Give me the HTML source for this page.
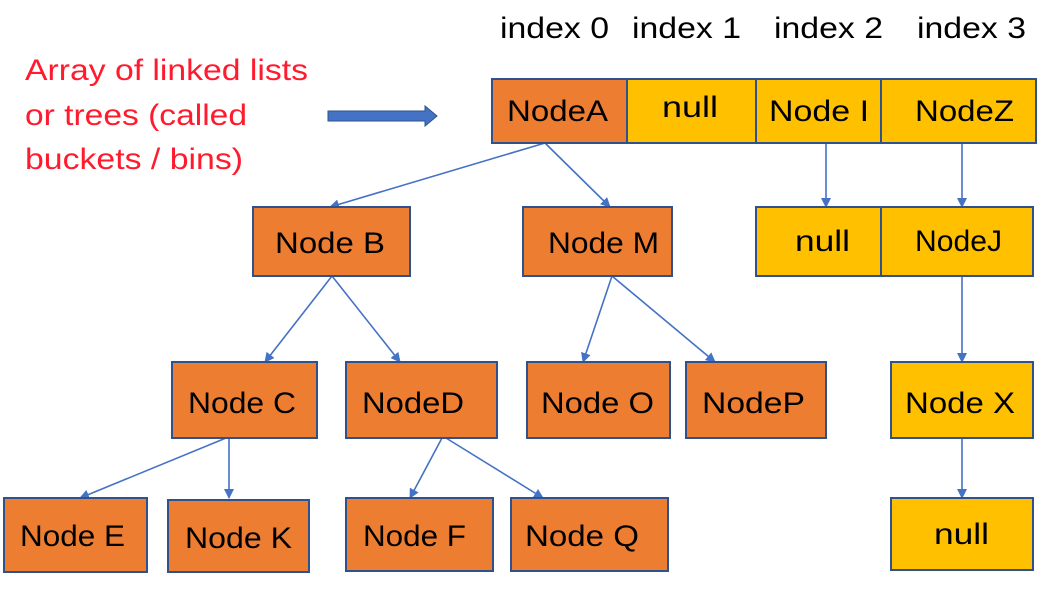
<!DOCTYPE html>
<html><head><meta charset="utf-8"><style>
html,body{margin:0;padding:0;background:#fff;width:1044px;height:604px;overflow:hidden}
svg text{font-family:"Liberation Sans",sans-serif}
</style></head><body>
<svg width="1044" height="604" viewBox="0 0 1044 604" xmlns="http://www.w3.org/2000/svg">
<defs><marker id="a" markerWidth="10" markerHeight="10" refX="9" refY="5" orient="auto" markerUnits="userSpaceOnUse"><path d="M0,0 L10,5 L0,10 z" fill="#4472c4"/></marker></defs>
<g font-size="30" fill="#000">
<text x="500" y="38" textLength="109" lengthAdjust="spacingAndGlyphs">index 0</text>
<text x="632" y="38" textLength="109" lengthAdjust="spacingAndGlyphs">index 1</text>
<text x="774" y="38" textLength="109" lengthAdjust="spacingAndGlyphs">index 2</text>
<text x="917" y="38" textLength="109" lengthAdjust="spacingAndGlyphs">index 3</text>
</g>
<g font-size="30" fill="#ff1a2e">
<text x="25" y="80" textLength="283" lengthAdjust="spacingAndGlyphs">Array of linked lists</text>
<text x="25" y="125" textLength="222" lengthAdjust="spacingAndGlyphs">or trees (called</text>
<text x="25" y="169" textLength="218" lengthAdjust="spacingAndGlyphs">buckets / bins)</text>
</g>
<path d="M328,111 H425 V106 L437,116 L425,126 V121 H328 Z" fill="#4472c4" stroke="#2f528f" stroke-width="1"/>
<g stroke="#4472c4" stroke-width="1.6" fill="none" marker-end="url(#a)">
<line x1="545" y1="143" x2="330" y2="207"/>
<line x1="545" y1="143" x2="610" y2="207"/>
<line x1="826" y1="143" x2="826" y2="207"/>
<line x1="962" y1="143" x2="962" y2="207"/>
<line x1="962" y1="276" x2="962" y2="362"/>
<line x1="962" y1="438" x2="962" y2="498"/>
<line x1="332" y1="276" x2="265" y2="362"/>
<line x1="332" y1="276" x2="400" y2="362"/>
<line x1="612" y1="276" x2="583" y2="362"/>
<line x1="612" y1="276" x2="715" y2="362"/>
<line x1="226" y1="438" x2="80" y2="498"/>
<line x1="229" y1="438" x2="229" y2="498"/>
<line x1="442" y1="438" x2="410" y2="498"/>
<line x1="446" y1="438" x2="543" y2="498"/>
</g>
<g stroke="#2f528f" stroke-width="2">
<rect x="492" y="79" width="135" height="64" fill="#ed7d31"/>
<rect x="627" y="79" width="129" height="64" fill="#ffc000"/>
<rect x="756" y="79" width="125" height="64" fill="#ffc000"/>
<rect x="881" y="79" width="155" height="64" fill="#ffc000"/>
<rect x="253" y="207" width="157" height="69" fill="#ed7d31"/>
<rect x="523" y="207" width="149" height="69" fill="#ed7d31"/>
<rect x="756" y="207" width="125" height="69" fill="#ffc000"/>
<rect x="881" y="207" width="152" height="69" fill="#ffc000"/>
<rect x="172" y="362" width="145" height="76" fill="#ed7d31"/>
<rect x="346" y="362" width="151" height="76" fill="#ed7d31"/>
<rect x="527" y="362" width="143" height="76" fill="#ed7d31"/>
<rect x="686" y="362" width="140" height="76" fill="#ed7d31"/>
<rect x="891" y="362" width="142" height="76" fill="#ffc000"/>
<rect x="4" y="498" width="143" height="74" fill="#ed7d31"/>
<rect x="168" y="500" width="141" height="72" fill="#ed7d31"/>
<rect x="346" y="498" width="147" height="73" fill="#ed7d31"/>
<rect x="511" y="498" width="157" height="73" fill="#ed7d31"/>
<rect x="891" y="498" width="142" height="72" fill="#ffc000"/>
</g>
<g font-size="30" fill="#000">
<text x="507" y="121" textLength="101" lengthAdjust="spacingAndGlyphs">NodeA</text>
<text x="662" y="117" textLength="56" lengthAdjust="spacingAndGlyphs">null</text>
<text x="769" y="121" textLength="100" lengthAdjust="spacingAndGlyphs">Node I</text>
<text x="915" y="121" textLength="99" lengthAdjust="spacingAndGlyphs">NodeZ</text>
<text x="275" y="253" textLength="110" lengthAdjust="spacingAndGlyphs">Node B</text>
<text x="548" y="253" textLength="111" lengthAdjust="spacingAndGlyphs">Node M</text>
<text x="795" y="251" textLength="55" lengthAdjust="spacingAndGlyphs">null</text>
<text x="915" y="251" textLength="87" lengthAdjust="spacingAndGlyphs">NodeJ</text>
<text x="188" y="413" textLength="108" lengthAdjust="spacingAndGlyphs">Node C</text>
<text x="362" y="413" textLength="102" lengthAdjust="spacingAndGlyphs">NodeD</text>
<text x="541" y="413" textLength="113" lengthAdjust="spacingAndGlyphs">Node O</text>
<text x="702" y="413" textLength="103" lengthAdjust="spacingAndGlyphs">NodeP</text>
<text x="905" y="413" textLength="110" lengthAdjust="spacingAndGlyphs">Node X</text>
<text x="20" y="546" textLength="105" lengthAdjust="spacingAndGlyphs">Node E</text>
<text x="185" y="548" textLength="107" lengthAdjust="spacingAndGlyphs">Node K</text>
<text x="363" y="546" textLength="103" lengthAdjust="spacingAndGlyphs">Node F</text>
<text x="525" y="546" textLength="114" lengthAdjust="spacingAndGlyphs">Node Q</text>
<text x="934" y="544" textLength="55" lengthAdjust="spacingAndGlyphs">null</text>
</g>
</svg>
</body></html>
